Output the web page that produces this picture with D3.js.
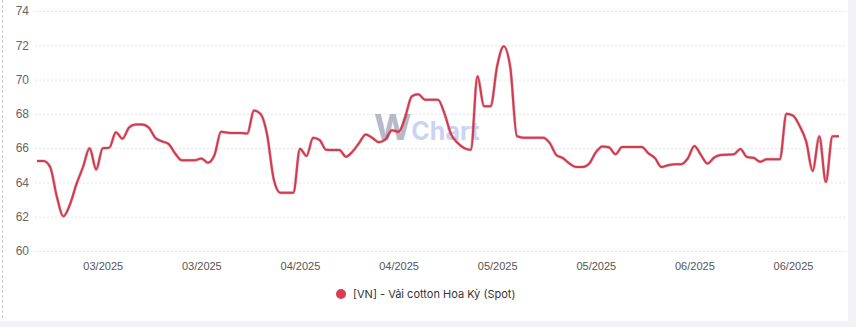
<!DOCTYPE html>
<html>
<head>
<meta charset="utf-8">
<script src="https://cdn.jsdelivr.net/npm/d3@7"></script>
<style>
  html, body { margin: 0; padding: 0; background: #f2f3f7; }
  svg { display: block; font-family: Inter, "Noto Sans", "DejaVu Sans", sans-serif; }
</style>
</head>
<body>
<svg id="chart" width="856" height="327"></svg>
<script>
// Daily spot price series, starting 23 Feb 2025
const startDate = "2025-02-23";
const prices = [
  65.25, 65.25, 64.9, 63.2, 62.02, 62.7, 63.9, 64.9, 66.0, 64.76,
  66.0, 66.03, 66.93, 66.55, 67.2, 67.38, 67.38, 67.2, 66.6, 66.4,
  66.25, 65.7, 65.29, 65.29, 65.29, 65.4, 65.15, 65.6, 66.95, 66.9,
  66.88, 66.88, 66.86, 68.2, 68.0, 66.8, 64.2, 63.4, 63.4, 63.4,
  65.97, 65.54, 66.61, 66.47, 65.9, 65.89, 65.89, 65.5, 65.8, 66.3,
  66.8, 66.6, 66.35, 66.5, 67.05, 66.95, 67.8, 69.02, 69.15, 68.83,
  68.83, 68.83, 68.0, 66.8, 66.3, 66.0, 65.9, 70.2, 68.44, 68.44,
  70.8, 71.95, 70.7, 66.7, 66.61, 66.61, 66.61, 66.61, 66.3, 65.6,
  65.42, 65.1, 64.9, 64.9, 65.1, 65.75, 66.1, 66.05, 65.64, 66.06,
  66.06, 66.06, 66.06, 65.7, 65.42, 64.9, 65.0, 65.06, 65.06, 65.4,
  66.12, 65.6, 65.1, 65.45, 65.6, 65.62, 65.64, 65.95, 65.48, 65.44,
  65.2, 65.35, 65.35, 65.35, 68.0, 67.9, 67.3, 66.4, 64.67, 66.7,
  64.03, 66.7, 66.7
];
const yTicks = [60, 62, 64, 66, 68, 70, 72, 74];
const xTickDates = ["2025-03-05", "2025-03-20", "2025-04-04", "2025-04-19",
                    "2025-05-04", "2025-05-19", "2025-06-03", "2025-06-18"];
const seriesName = "[VN] - Vải cotton Hoa Kỳ (Spot)";

const parse = d3.utcParse("%Y-%m-%d");
const t0 = parse(startDate);
const points = prices.map((v, i) => ({ date: d3.utcDay.offset(t0, i), value: v }));

const svg = d3.select("#chart");

// white card with dashed left border
svg.append("rect").attr("x", 0).attr("y", 0).attr("width", 848).attr("height", 321)
  .attr("fill", "#ffffff");
svg.append("line").attr("x1", 2.5).attr("x2", 2.5).attr("y1", 0).attr("y2", 318)
  .attr("stroke", "#c9c9c9").attr("stroke-dasharray", "3,2");

const x = d3.scaleUtc()
  .domain(d3.extent(points, d => d.date))
  .range([37, 839]);
const y = d3.scaleLinear().domain([60, 74]).range([251, 11]);

// horizontal grid
svg.append("g").selectAll("line").data(yTicks).join("line")
  .attr("x1", 35).attr("x2", 845)
  .attr("y1", d => y(d) + 0.5).attr("y2", d => y(d) + 0.5)
  .attr("stroke", "#e3e3e3").attr("stroke-dasharray", "2,2");

// y axis labels
const yAxis = svg.append("g").attr("transform", "translate(30,0)")
  .call(d3.axisLeft(y).tickValues(yTicks).tickSize(0).tickPadding(0).tickFormat(d3.format("d")));
yAxis.select(".domain").remove();
yAxis.selectAll("text").attr("fill", "#666").attr("font-size", 12)
  .attr("text-anchor", "end").attr("x", -1);

// x axis labels
const xAxis = svg.append("g").attr("transform", "translate(0,258)")
  .call(d3.axisBottom(x).tickValues(xTickDates.map(parse)).tickSize(0).tickPadding(4)
    .tickFormat(d3.utcFormat("%m/%Y")));
xAxis.select(".domain").remove();
xAxis.selectAll("text").attr("fill", "#555").attr("font-size", 11);

// watermark
const wm = svg.append("text").attr("x", 374).attr("y", 140)
  .attr("font-weight", 700).attr("opacity", 0.7)
  .attr("font-family", "Inter, 'Noto Sans', sans-serif");
wm.append("tspan").text("W").attr("fill", "#9a9bb3").attr("font-size", 36);
wm.append("tspan").text("Chart").attr("fill", "#b4c1ee").attr("font-size", 25);

// price line
const line = d3.line()
  .x(d => x(d.date))
  .y(d => y(d.value))
  .curve(d3.curveMonotoneX);

svg.append("path").datum(points)
  .attr("d", line)
  .attr("fill", "none")
  .attr("stroke", "#b3263a")
  .attr("stroke-width", 3)
  .attr("stroke-opacity", 0.35)
  .attr("stroke-linejoin", "round");
svg.append("path").datum(points)
  .attr("d", line)
  .attr("fill", "none")
  .attr("stroke", "#d33a4e")
  .attr("stroke-width", 2)
  .attr("stroke-linejoin", "round");

// legend
const legend = svg.append("g").attr("transform", "translate(341,294)");
legend.append("circle").attr("r", 5).attr("fill", "#dc3c50");
legend.append("text").attr("x", 12).attr("dy", "0.35em")
  .attr("font-size", 11).attr("fill", "#333").text(seriesName);
</script>
</body>
</html>
